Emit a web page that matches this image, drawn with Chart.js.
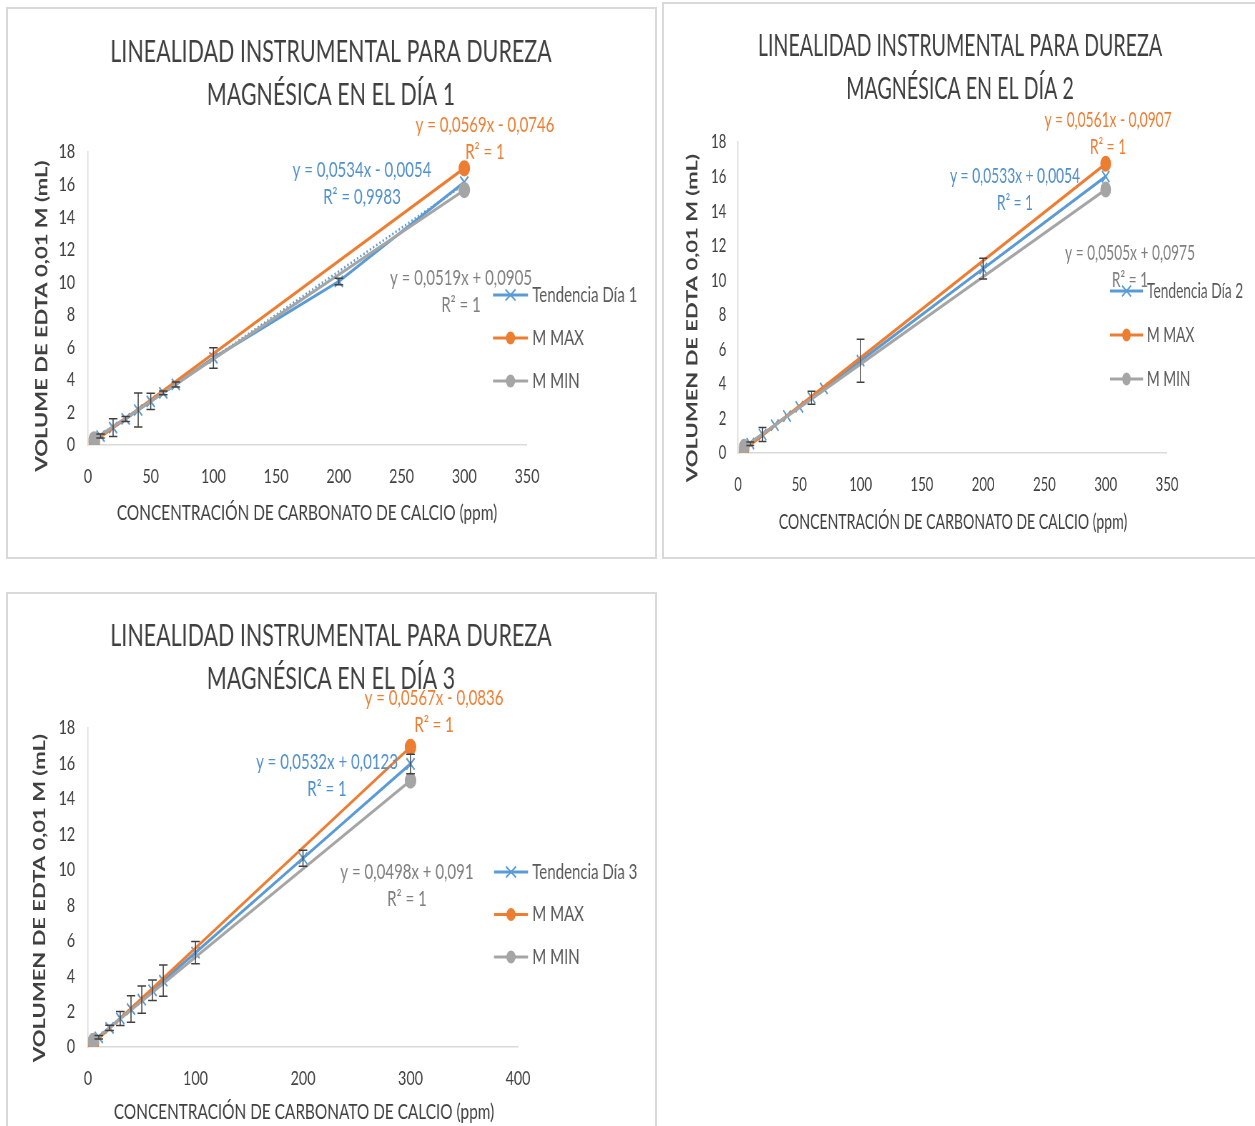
<!DOCTYPE html>
<html>
<head>
<meta charset="utf-8">
<script src="https://cdn.jsdelivr.net/npm/chart.js@4.4.1/dist/chart.umd.min.js"></script>
<style>
  html, body { margin: 0; padding: 0; background: #fff; }
  body { position: relative; width: 1255px; height: 1126px; overflow: hidden; }
  .panel { position: absolute; border: 2px solid #d9d9d9; box-sizing: border-box; background: #fff; }
  canvas.chart { position: absolute; transform-origin: 0 0; }
</style>
</head>
<body>
<div class="panel" style="left:6px; top:7px; width:651px; height:552px;"></div>
<div class="panel" style="left:662px; top:2px; width:610px; height:557px;"></div>
<div class="panel" style="left:6px; top:592px; width:651px; height:600px;"></div>
<canvas class="chart" id="dia1"></canvas>
<canvas class="chart" id="dia2"></canvas>
<canvas class="chart" id="dia3"></canvas>
<script>
// Concentración de carbonato de calcio (ppm) de los patrones
const concentraciones = [5, 10, 20, 30, 40, 50, 60, 70, 100, 200, 300];

// Volumen de EDTA 0,01 M (mL) – tendencia de cada día
const tendenciaDia1 = [0.26, 0.55, 1.07, 1.60, 2.15, 2.68, 3.20, 3.72, 5.35, 10.05, 16.15];
const tendenciaDia2 = [0.27, 0.54, 1.07, 1.61, 2.14, 2.67, 3.20, 3.74, 5.34, 10.67, 16.00];
const tendenciaDia3 = [0.28, 0.545, 1.08, 1.61, 2.14, 2.67, 3.20, 3.74, 5.33, 10.65, 15.97];

// Barras de error (± mL)
const errorDia1 = [0, 0.12, 0.55, 0.15, 1.05, 0.50, 0.12, 0.15, 0.63, 0.20, 0];
const errorDia2 = [0, 0.10, 0.40, 0, 0, 0, 0.38, 0, 1.25, 0.60, 0];
const errorDia3 = [0, 0.10, 0.15, 0.40, 0.75, 0.77, 0.58, 0.88, 0.63, 0.45, 0.55];

// Extremos M MAX / M MIN
const concExtremos = [5, 300];
const mMaxDia1 = [0.21, 17.00];
const mMinDia1 = [0.35, 15.66];
const mMaxDia2 = [0.19, 16.74];
const mMinDia2 = [0.35, 15.25];
const mMaxDia3 = [0.20, 16.93];
const mMinDia3 = [0.34, 15.03];

// Ecuaciones de las líneas de tendencia
const pendienteTend = [0.0534, 0.0533, 0.0532];
const interceptoTend = [-0.0054, 0.0054, 0.0123];
const r2Tend = ['0,9983', '1', '1'];
const pendienteMax = [0.0569, 0.0561, 0.0567];
const interceptoMax = [-0.0746, -0.0907, -0.0836];
const pendienteMin = [0.0519, 0.0505, 0.0498];
const interceptoMin = [0.0905, 0.0975, 0.091];

// Ejes
const ticksY = [0, 2, 4, 6, 8, 10, 12, 14, 16, 18];
const ticksXDia12 = [0, 50, 100, 150, 200, 250, 300, 350];
const ticksXDia3 = [0, 100, 200, 300, 400];

const AZUL = '#5B9BD5', NARANJA = '#ED7D31', GRIS = '#A5A5A5';
const FONT = 'Lato, "Open Sans", sans-serif';

function num(v) { return String(Math.abs(v)).replace('.', ','); }
function ecuacion(m, b) { return 'y = ' + num(m) + 'x ' + (b < 0 ? '-' : '+') + ' ' + num(b); }
function puntos(xs, ys) { return xs.map((x, i) => ({ x: x, y: ys[i] })); }

// Dibujo de títulos, leyenda, barras de error y ecuaciones
const decor = {
  id: 'decor',
  afterDatasetsDraw(chart, args, o) {
    const ctx = chart.ctx, ys = chart.scales.y;
    chart.data.datasets.forEach((ds, i) => {
      if (!ds.errores) return;
      const meta = chart.getDatasetMeta(i);
      ctx.save();
      ctx.strokeStyle = '#404040';
      ctx.lineWidth = 1.5;
      ds.data.forEach((p, j) => {
        const e = ds.errores[j];
        if (!e) return;
        const x = meta.data[j].x;
        const t = ys.getPixelForValue(p.y + e), b = ys.getPixelForValue(p.y - e);
        ctx.beginPath();
        ctx.moveTo(x, t); ctx.lineTo(x, b);
        ctx.moveTo(x - 6, t); ctx.lineTo(x + 6, t);
        ctx.moveTo(x - 6, b); ctx.lineTo(x + 6, b);
        ctx.stroke();
      });
      ctx.restore();
    });
  },
  afterDraw(chart, args, o) {
    const ctx = chart.ctx, xs = chart.scales.x, ys = chart.scales.y;
    ctx.save();
    // título
    ctx.fillStyle = '#404040';
    ctx.textAlign = 'center';
    ctx.textBaseline = 'middle';
    ctx.font = '30px ' + FONT;
    o.titulo.forEach((t, i) => ctx.fillText(t, o.tituloX, o.tituloY + i * 43));
    // título eje X
    ctx.font = '21.5px ' + FONT;
    ctx.fillText(o.tituloEjeX, o.ejeXPos[0], o.ejeXPos[1]);
    // título eje Y
    ctx.save();
    ctx.translate(o.ejeYPos[0], o.ejeYPos[1]);
    ctx.rotate(-Math.PI / 2);
    ctx.font = 'bold 22px ' + FONT;
    ctx.fillText(o.tituloEjeY, 0, 0);
    ctx.restore();
    // ecuaciones
    ctx.font = '21px ' + FONT;
    o.ecuaciones.forEach(q => {
      const px = xs.getPixelForValue(q.x), py = ys.getPixelForValue(q.y);
      ctx.fillStyle = q.color;
      ctx.fillText(q.lineas[0], px, py);
      ctx.fillText(q.lineas[1], px, py + 27);
    });
    // leyenda
    const L = o.leyenda;
    chart.data.datasets.filter(d => d.enLeyenda).forEach((d, i) => {
      const y = L.y + i * L.paso, xm = (L.x0 + L.x1) / 2;
      ctx.strokeStyle = d.borderColor;
      ctx.fillStyle = d.borderColor;
      ctx.lineWidth = 3.2;
      ctx.beginPath(); ctx.moveTo(L.x0, y); ctx.lineTo(L.x1, y); ctx.stroke();
      if (d.pointStyle === 'crossRot') {
        const rx = 7, ry = 5.5;
        ctx.lineWidth = 2;
        ctx.beginPath();
        ctx.moveTo(xm - rx, y - ry); ctx.lineTo(xm + rx, y + ry);
        ctx.moveTo(xm - rx, y + ry); ctx.lineTo(xm + rx, y - ry);
        ctx.stroke();
      } else {
        ctx.beginPath(); ctx.arc(xm, y, 6.5, 0, Math.PI * 2); ctx.fill();
      }
      ctx.fillStyle = '#595959';
      ctx.textAlign = 'left';
      ctx.font = '21px ' + FONT;
      ctx.fillText(d.label, L.x1 + 6, y);
      ctx.textAlign = 'center';
    });
    ctx.restore();
  }
};

function crear(id, cfg) {
  const SQ = cfg.compresion;     // compresión horizontal del dibujo
  const cv = document.getElementById(id);
  const W = Math.round(cfg.ancho / SQ), H = cfg.alto;
  cv.width = W; cv.height = H;
  cv.style.width = W + 'px'; cv.style.height = H + 'px';
  cv.style.left = cfg.izq + 'px'; cv.style.top = cfg.sup + 'px';
  cv.style.transform = 'scaleX(' + SQ + ')';
  const cx = X => (X - cfg.izq) / SQ, cy = Y => Y - cfg.sup;
  const area = { l: cx(cfg.area[0]), r: cx(cfg.area[1]), t: cy(cfg.area[2]), b: cy(cfg.area[3]) };
  const d = cfg.dia - 1;
  const tend = cfg.tendencia;
  const datasets = [
    { label: 'M MIN', data: puntos(concExtremos, cfg.mMin), borderColor: GRIS, backgroundColor: GRIS,
      pointStyle: 'circle', pointRadius: 6.5, borderWidth: 3.2, showLine: true, order: 0, enLeyenda: true },
    { label: 'M MAX', data: puntos(concExtremos, cfg.mMax), borderColor: NARANJA, backgroundColor: NARANJA,
      pointStyle: 'circle', pointRadius: 6.5, borderWidth: 3.2, showLine: true, order: 1, enLeyenda: true },
    { label: 'Tendencia Día ' + cfg.dia, data: puntos(concentraciones, tend), borderColor: AZUL, backgroundColor: AZUL,
      pointStyle: 'crossRot', pointRadius: 8, pointBorderWidth: 2, borderWidth: 3.2, showLine: true, order: 2,
      errores: cfg.error, enLeyenda: true },
    { label: 'Lineal (Tendencia)', data: [concentraciones[0], concentraciones[concentraciones.length - 1]]
        .map(x => ({ x: x, y: pendienteTend[d] * x + interceptoTend[d] })),
      borderColor: AZUL, borderDash: [2, 3], borderWidth: 2.5, pointRadius: 0, showLine: true, order: 3 }
  ];
  // orden de la leyenda: Tendencia, M MAX, M MIN
  const leyendaOrden = [datasets[2], datasets[1], datasets[0], datasets[3]];
  return new Chart(cv, {
    type: 'scatter',
    data: { datasets: leyendaOrden },
    options: {
      responsive: false, animation: false, devicePixelRatio: 1,
      layout: { padding: { left: 0, top: area.t, right: W - area.r, bottom: 0 } },
      scales: {
        x: {
          type: 'linear', min: 0, max: cfg.ticksX[cfg.ticksX.length - 1],
          afterBuildTicks: s => { s.ticks = cfg.ticksX.map(v => ({ value: v })); },
          afterFit: s => { s.height = H - area.b; },
          grid: { display: false, drawTicks: false },
          border: { display: true, color: '#D9D9D9', width: 1.5 },
          ticks: { color: '#404040', font: { family: FONT, size: 20 }, padding: 20, maxRotation: 0 }
        },
        y: {
          type: 'linear', min: 0, max: 18,
          afterBuildTicks: s => { s.ticks = ticksY.map(v => ({ value: v })); },
          afterFit: s => { s.width = area.l; },
          grid: { display: false, drawTicks: false },
          border: { display: true, color: '#D9D9D9', width: 1.5 },
          ticks: { color: '#404040', font: { family: FONT, size: 20 }, padding: 18 }
        }
      },
      plugins: {
        legend: { display: false },
        tooltip: { enabled: false },
        decor: {
          titulo: ['LINEALIDAD INSTRUMENTAL PARA DUREZA', 'MAGNÉSICA EN EL DÍA ' + cfg.dia],
          tituloX: cx(cfg.tituloPos[0]), tituloY: cy(cfg.tituloPos[1]),
          tituloEjeX: 'CONCENTRACIÓN DE CARBONATO DE CALCIO (ppm)',
          ejeXPos: [cx(cfg.ejeXPos[0]), cy(cfg.ejeXPos[1])],
          tituloEjeY: cfg.tituloEjeY,
          ejeYPos: [cx(cfg.ejeYPos[0]), cy(cfg.ejeYPos[1])],
          leyenda: { x0: cx(cfg.leyenda[0]), x1: cx(cfg.leyenda[1]), y: cy(cfg.leyenda[2]), paso: cfg.leyenda[3] },
          ecuaciones: [
            { lineas: [ecuacion(pendienteMax[d], interceptoMax[d]), 'R² = 1'], color: NARANJA, x: cfg.etiquetas[0][0], y: cfg.etiquetas[0][1] },
            { lineas: [ecuacion(pendienteTend[d], interceptoTend[d]), 'R² = ' + r2Tend[d]], color: '#4F8FCB', x: cfg.etiquetas[1][0], y: cfg.etiquetas[1][1] },
            { lineas: [ecuacion(pendienteMin[d], interceptoMin[d]), 'R² = 1'], color: '#7F7F7F', x: cfg.etiquetas[2][0], y: cfg.etiquetas[2][1] }
          ]
        }
      }
    },
    plugins: [decor]
  });
}

crear('dia1', {
  dia: 1, izq: 8, sup: 9, ancho: 647, alto: 548, compresion: 0.715,
  area: [88, 527, 152, 445],
  ticksX: ticksXDia12,
  tendencia: tendenciaDia1, error: errorDia1, mMax: mMaxDia1, mMin: mMinDia1,
  tituloPos: [331, 52], ejeXPos: [307, 513], ejeYPos: [42, 316],
  tituloEjeY: 'VOLUME DE EDTA 0,01 M (mL)',
  leyenda: [493, 528, 295, 43],
  etiquetas: [[316.5, 19.66], [218.4, 16.9], [297.4, 10.26]]
});

crear('dia2', {
  dia: 2, izq: 664, sup: 4, ancho: 591, alto: 553, compresion: 0.655,
  area: [738, 1167, 142, 453],
  ticksX: ticksXDia12,
  tendencia: tendenciaDia2, error: errorDia2, mMax: mMaxDia2, mMin: mMinDia2,
  tituloPos: [960, 46], ejeXPos: [953, 522], ejeYPos: [693, 318],
  tituloEjeY: 'VOLUMEN DE EDTA 0,01 M (mL)',
  leyenda: [1110, 1143, 291, 44],
  etiquetas: [[301.9, 19.27], [226.0, 16.03], [319.8, 11.57]]
});

crear('dia3', {
  dia: 3, izq: 8, sup: 594, ancho: 647, alto: 532, compresion: 0.715,
  area: [88, 518, 728, 1047],
  ticksX: ticksXDia3,
  tendencia: tendenciaDia3, error: errorDia3, mMax: mMaxDia3, mMin: mMinDia3,
  tituloPos: [331, 636], ejeXPos: [304, 1112], ejeYPos: [40, 898],
  tituloEjeY: 'VOLUMEN DE EDTA 0,01 M (mL)',
  leyenda: [494, 528, 872, 42.5],
  etiquetas: [[321.9, 19.7], [222.3, 16.08], [296.7, 9.88]]
});
</script>
</body>
</html>
